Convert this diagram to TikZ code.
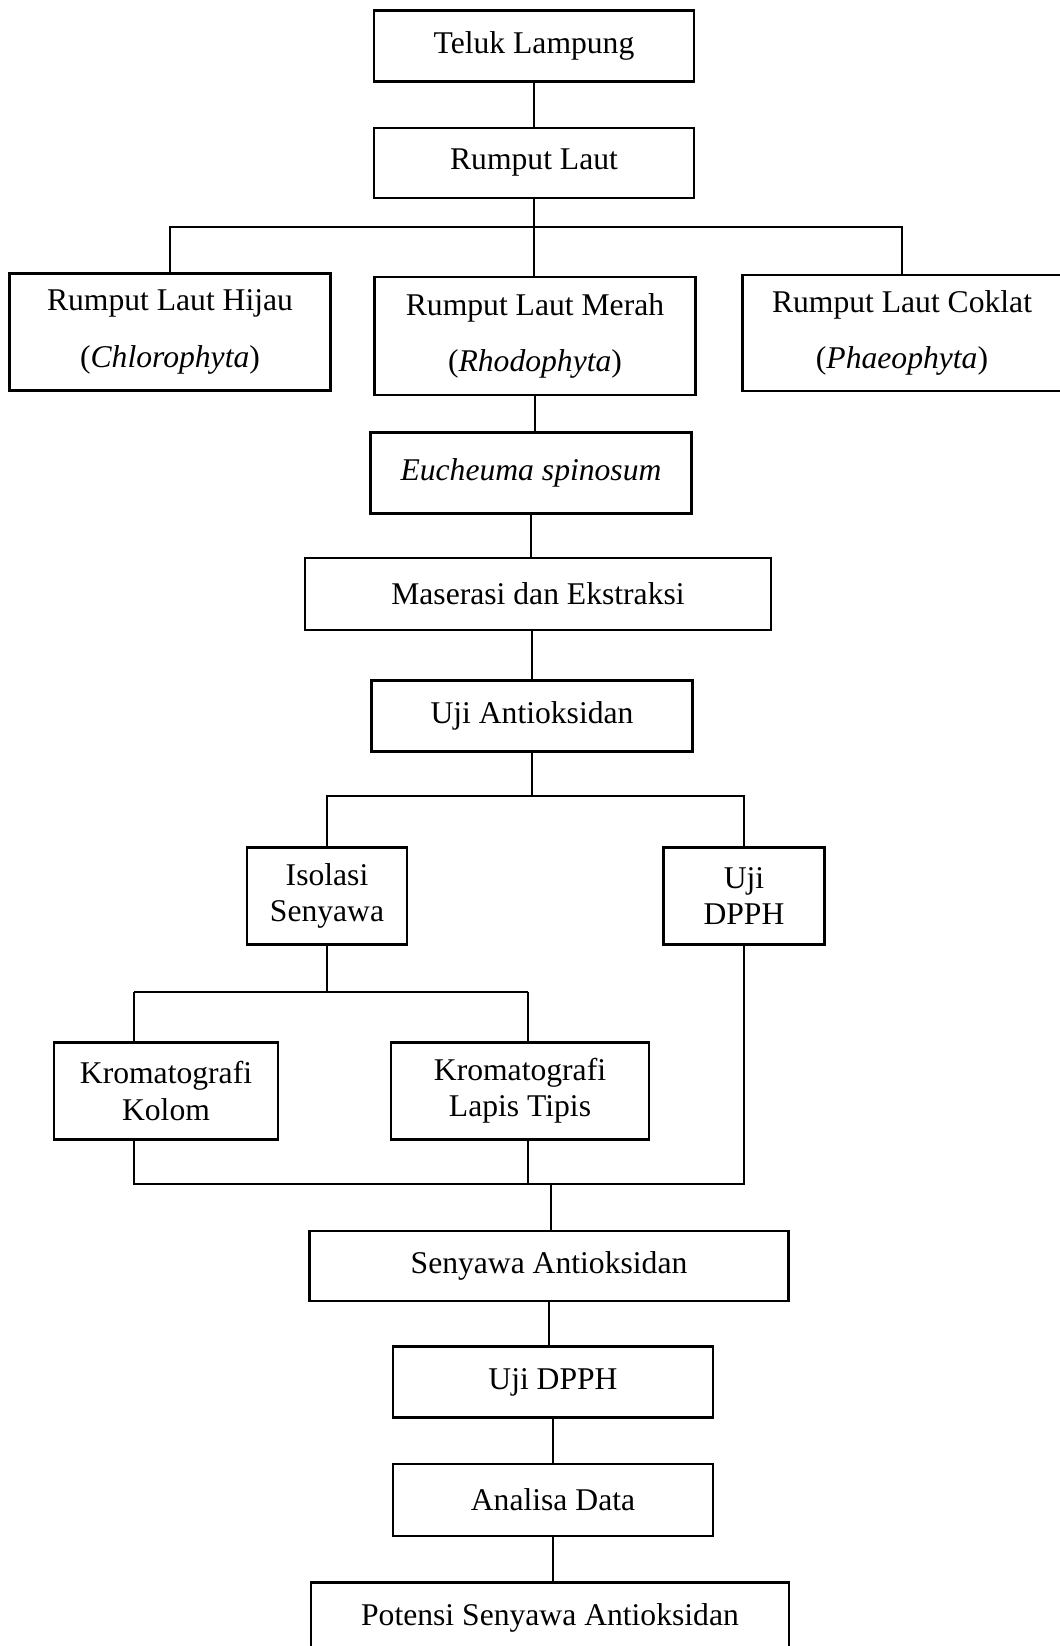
\documentclass[tikz,border=0pt]{standalone}
\usepackage{fontspec}
\setmainfont{Liberation Serif}
\usetikzlibrary{positioning}
\tikzset{
  kotak/.style={
    draw=black, line width=1.2pt, fill=white,
    align=center, inner sep=0pt,
    font=\fontsize{18}{20.5}\selectfont,
  },
  garis/.style={
    draw=black, line width=0.6pt,
  },
}
\begin{document}
\begin{tikzpicture}[x=0.02cm, y=-0.02cm]
\useasboundingbox (0,0) rectangle (1059,1646);

% =:=:=:=:=:=:=:=:=:=:=:=:=:=:=:=:=:=:=
% Asal sampel
% =:=:=:=:=:=:=:=:=:=:=:=:=:=:=:=:=:=:=
\node[kotak, minimum width=6.4cm, minimum height=1.42cm]
    (teluk) at (534, 46) {Teluk Lampung};
\node[kotak, minimum width=6.4cm, minimum height=1.40cm]
    (rl) at (534, 163) {Rumput Laut};

% =:=:=:=:=:=:=:=:=:=:=:=:=:=:=:=:=:=:=
% Jenis rumput laut
% =:=:=:=:=:=:=:=:=:=:=:=:=:=:=:=:=:=:=
\node[kotak, minimum width=6.42cm, minimum height=2.34cm]
    (hijau) at (170, 332)
    {Rumput Laut Hijau\\[11.5pt](\textit{Chlorophyta})};
\node[kotak, minimum width=6.42cm, minimum height=2.36cm]
    (merah) at (535, 336)
    {Rumput Laut Merah\\[11.5pt](\textit{Rhodophyta})};
\node[kotak, minimum width=6.38cm, minimum height=2.32cm]
    (coklat) at (902, 333)
    {Rumput Laut Coklat\\[11.5pt](\textit{Phaeophyta})};

\node[kotak, minimum width=6.42cm, minimum height=1.62cm]
    (euch) at (531, 473) {\textit{Eucheuma spinosum}};
\node[kotak, minimum width=9.32cm, minimum height=1.44cm]
    (mas) at (538, 594) {Maserasi dan Ekstraksi};
\node[kotak, minimum width=6.42cm, minimum height=1.42cm]
    (ujiA) at (532, 716) {Uji Antioksidan};

% =:=:=:=:=:=:=:=:=:=:=:=:=:=:=:=:=:=:=
% Isolasi dan uji
% =:=:=:=:=:=:=:=:=:=:=:=:=:=:=:=:=:=:=
\node[kotak, minimum width=3.2cm, minimum height=1.94cm]
    (iso) at (327, 896) {Isolasi\\Senyawa};
\node[kotak, minimum width=3.22cm, minimum height=1.94cm]
    (dpph1) at (744, 896) {Uji\\DPPH};
\node[kotak, minimum width=4.48cm, minimum height=1.94cm]
    (kk) at (166, 1091) {Kromatografi\\Kolom};
\node[kotak, minimum width=5.16cm, minimum height=1.94cm]
    (klt) at (520, 1091) {Kromatografi\\Lapis Tipis};

% =:=:=:=:=:=:=:=:=:=:=:=:=:=:=:=:=:=:=
% Hasil
% =:=:=:=:=:=:=:=:=:=:=:=:=:=:=:=:=:=:=
\node[kotak, minimum width=9.58cm, minimum height=1.40cm]
    (sen) at (549, 1266) {Senyawa Antioksidan};
\node[kotak, minimum width=6.4cm, minimum height=1.42cm]
    (dpph2) at (553, 1382) {Uji DPPH};
\node[kotak, minimum width=6.4cm, minimum height=1.44cm]
    (ana) at (553, 1500) {Analisa Data};
\node[kotak, minimum width=9.56cm, minimum height=1.42cm]
    (pot) at (550, 1618) {Potensi Senyawa Antioksidan};

% =:=:=:=:=:=:=:=:=:=:=:=:=:=:=:=:=:=:=
% Garis penghubung
% =:=:=:=:=:=:=:=:=:=:=:=:=:=:=:=:=:=:=
\coordinate (cabang1) at (534, 227);
\coordinate (cabang2) at (532, 796);
\coordinate (cabang3) at (327, 992);
\coordinate (kkAtas) at (134, 992);
\coordinate (kltAtas) at (528, 992);
\coordinate (kkBawah) at (134, 1184);
\coordinate (kltBawah) at (528, 1184);
\coordinate (gabung) at (551, 1184);

\draw[garis] (teluk.south) -- (rl.north);
\draw[garis] (rl.south) -- (rl.south |- merah.north);
\draw[garis] (hijau.north) |- (cabang1) -| (coklat.north);
\draw[garis] (merah.south) -- (merah.south |- euch.north);
\draw[garis] (euch.south) -- (euch.south |- mas.north);
\draw[garis] (ujiA.north |- mas.south) -- (ujiA.north);

\draw[garis] (ujiA.south) -- (cabang2);
\draw[garis] (iso.north) |- (cabang2) -| (dpph1.north);

\draw[garis] (iso.south) -- (cabang3);
\draw[garis] (kkAtas) -- (kltAtas);
\draw[garis] (kkAtas) -- (kkAtas |- kk.north);
\draw[garis] (kltAtas) -- (kltAtas |- klt.north);

\draw[garis] (kkBawah |- kk.south) -- (kkBawah)
    -- (dpph1.south |- kkBawah) -- (dpph1.south);
\draw[garis] (kltBawah |- klt.south) -- (kltBawah);
\draw[garis] (gabung) -- (gabung |- sen.north);

\draw[garis] (sen.south) -- (sen.south |- dpph2.north);
\draw[garis] (dpph2.south) -- (ana.north);
\draw[garis] (ana.south) -- (ana.south |- pot.north);

\end{tikzpicture}
\end{document}
